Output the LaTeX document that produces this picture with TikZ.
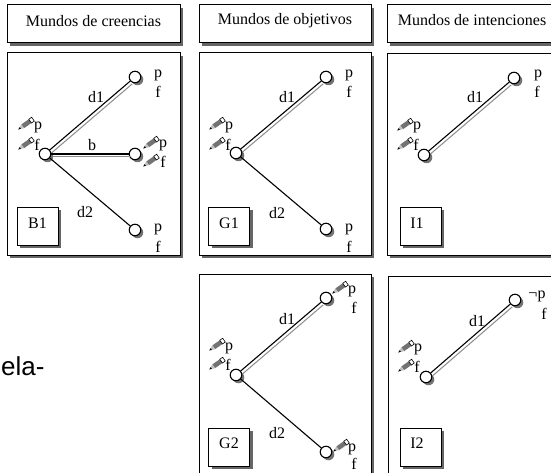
\documentclass[tikz,border=0pt]{standalone}
\usepackage{fontspec}
\setmainfont{Liberation Serif}
\newfontfamily\labelsans{Liberation Sans}
\usetikzlibrary{shadows}

\tikzset{
    boxshadow/.style={drop shadow={shadow xshift=3pt,shadow yshift=-3pt,fill=black!60,opacity=1}},
    panel/.style={draw,fill=white,line width=1pt,inner sep=0pt,boxshadow},
    world/.style={circle,draw,fill=white,line width=1.1pt,inner sep=0pt,minimum size=11.5pt,
        drop shadow={shadow xshift=2.5pt,shadow yshift=-2.5pt,fill=black!55,opacity=1}},
    lbl/.style={inner sep=0pt},
    access/.style={line width=1.1pt},
    accessback/.style={black!45,line width=1pt,transform canvas={xshift=2pt,yshift=-2.8pt}},
    pencil/.pic={
        \fill[black!55] (-4,-2.3) -- (5,-2.3) -- (5,2.3) -- (-4,2.3) -- cycle;
        \fill[black!25] (-4,-2.3) -- (-9.5,0) -- (-4,2.3) -- cycle;
        \fill[black] (-7,-1) -- (-9.5,0) -- (-7,1) -- cycle;
        \draw[black,line width=0.6pt,fill=white] (5,-2.3) rectangle (8.5,2.3);
    },
}

\begin{document}
\begin{tikzpicture}[x=1pt,y=-1pt,font=\fontsize{16}{18}\selectfont]
    \useasboundingbox (0,0) rectangle (551,473);
    \clip (0,0) rectangle (551,473);
    \fill[white] (0,0) rectangle (551,473);

    % headers
    \node[panel,minimum width=173pt,minimum height=38pt] (hB) at (93.5,24) {};
    \node[panel,minimum width=172pt,minimum height=38pt] (hG) at (285,24) {};
    \node[panel,minimum width=180pt,minimum height=38pt] (hI) at (477,24) {};
    \node[lbl] (hBt) at (93.5,21) {Mundos de creencias};
    \node[lbl] (hGt) at (285,21) {Mundos de objetivos};
    \node[lbl] (hIt) at (472,20) {Mundos de intenciones};

    % panels
    \node[panel,minimum width=173pt,minimum height=202pt] (pB1) at (93.5,154) {};
    \node[panel,minimum width=172pt,minimum height=202pt] (pG1) at (285,154) {};
    \node[panel,minimum width=180pt,minimum height=201pt] (pI1) at (477,154.5) {};
    \node[panel,minimum width=172pt,minimum height=210pt] (pG2) at (285,379) {};
    \node[panel,minimum width=180pt,minimum height=210pt] (pI2) at (478,381) {};

    % B1
    \node[panel,minimum width=41pt,minimum height=38pt] (nB1) at (37.5,226) {};
    \node[lbl] (tB1) at (37.5,223) {B1};
    \node[world] (B1a) at (45,154) {};
    \node[world] (B1b) at (135,77) {};
    \node[world] (B1c) at (135,154) {};
    \node[world] (B1d) at (135,230) {};
    \draw[accessback] (B1a) -- (B1b);
    \draw[accessback] (B1a) -- (B1c);
    \draw[access] (B1a) -- (B1b);
    \draw[access] (B1a) -- (B1c);
    \draw[access] (B1a) -- (B1d);
    \node[lbl] (B1d1) at (96,97) {d1};
    \node[lbl] (B1e) at (92,145) {b};
    \node[lbl] (B1d2) at (85,212) {d2};
    \node[lbl] (B1p1) at (38,127) {p};
    \node[lbl] (B1f1) at (37,145) {f};
    \node[lbl] (B1p2) at (158,75) {p};
    \node[lbl] (B1f2) at (158,92) {f};
    \node[lbl] (B1p3) at (163,145) {p};
    \node[lbl] (B1f3) at (163,162) {f};
    \node[lbl] (B1p4) at (158,229) {p};
    \node[lbl] (B1f4) at (158,247) {f};
    \pic[rotate=35] at (26,124) {pencil};
    \pic[rotate=35] at (26,144) {pencil};
    \pic[rotate=35] at (151,143) {pencil};
    \pic[rotate=35] at (151,161) {pencil};

    % G1
    \node[panel,minimum width=41pt,minimum height=38pt] (nG1) at (229,226) {};
    \node[lbl] (tG1) at (229,223) {G1};
    \node[world] (G1a) at (236,153) {};
    \node[world] (G1b) at (326,77) {};
    \node[world] (G1c) at (326,229) {};
    \draw[accessback] (G1a) -- (G1b);
    \draw[access] (G1a) -- (G1b);
    \draw[access] (G1a) -- (G1c);
    \node[lbl] (G1d1) at (287,97) {d1};
    \node[lbl] (G1d2) at (277,213) {d2};
    \node[lbl] (G1p1) at (229,127) {p};
    \node[lbl] (G1f1) at (228,145) {f};
    \node[lbl] (G1p2) at (349,75) {p};
    \node[lbl] (G1f2) at (349,92) {f};
    \node[lbl] (G1p3) at (349,229) {p};
    \node[lbl] (G1f3) at (349,247) {f};
    \pic[rotate=35] at (217,124) {pencil};
    \pic[rotate=35] at (217,144) {pencil};

    % I1
    \node[panel,minimum width=41pt,minimum height=38pt] (nI1) at (420.5,226) {};
    \node[lbl] (tI1) at (417,223) {I1};
    \node[world] (I1a) at (424,155) {};
    \node[world] (I1b) at (514,78) {};
    \draw[accessback] (I1a) -- (I1b);
    \draw[access] (I1a) -- (I1b);
    \node[lbl] (I1d1) at (475,97) {d1};
    \node[lbl] (I1p1) at (417,127) {p};
    \node[lbl] (I1f1) at (416,145) {f};
    \node[lbl] (I1p2) at (538,75) {p};
    \node[lbl] (I1f2) at (537,92) {f};
    \pic[rotate=35] at (405,125) {pencil};
    \pic[rotate=35] at (405,144) {pencil};

    % G2
    \node[panel,minimum width=41pt,minimum height=38pt] (nG2) at (229,447) {};
    \node[lbl] (tG2) at (229,443) {G2};
    \node[world] (G2a) at (236,375) {};
    \node[world] (G2b) at (326,298) {};
    \node[world] (G2c) at (326,452) {};
    \draw[accessback] (G2a) -- (G2b);
    \draw[access] (G2a) -- (G2b);
    \draw[access] (G2a) -- (G2c);
    \node[lbl] (G2d1) at (287,319) {d1};
    \node[lbl] (G2d2) at (277,433) {d2};
    \node[lbl] (G2p1) at (229,348) {p};
    \node[lbl] (G2f1) at (228,365) {f};
    \node[lbl] (G2p2) at (352,291) {p};
    \node[lbl] (G2f2) at (354,308) {f};
    \node[lbl] (G2p3) at (352,449) {p};
    \node[lbl] (G2f3) at (354,464) {f};
    \pic[rotate=35] at (217,345) {pencil};
    \pic[rotate=35] at (217,364) {pencil};
    \pic[rotate=35] at (340,288) {pencil};
    \pic[rotate=35] at (341,446) {pencil};

    % I2
    \node[panel,minimum width=41pt,minimum height=38pt] (nI2) at (420.5,447) {};
    \node[lbl] (tI2) at (417,443) {I2};
    \node[world] (I2a) at (426,377) {};
    \node[world] (I2b) at (515,300) {};
    \draw[accessback] (I2a) -- (I2b);
    \draw[access] (I2a) -- (I2b);
    \node[lbl] (I2d1) at (477,321) {d1};
    \node[lbl] (I2p1) at (418,349) {p};
    \node[lbl] (I2f1) at (417,367) {f};
    \node[lbl] (I2p2) at (537,296) {¬p};
    \node[lbl] (I2f2) at (544,314) {f};
    \pic[rotate=35] at (406,347) {pencil};
    \pic[rotate=35] at (406,366) {pencil};

    \node[lbl,font=\labelsans\fontsize{26}{28}\selectfont,anchor=base west] (cut) at (1,375) {ela-};
\end{tikzpicture}
\end{document}
